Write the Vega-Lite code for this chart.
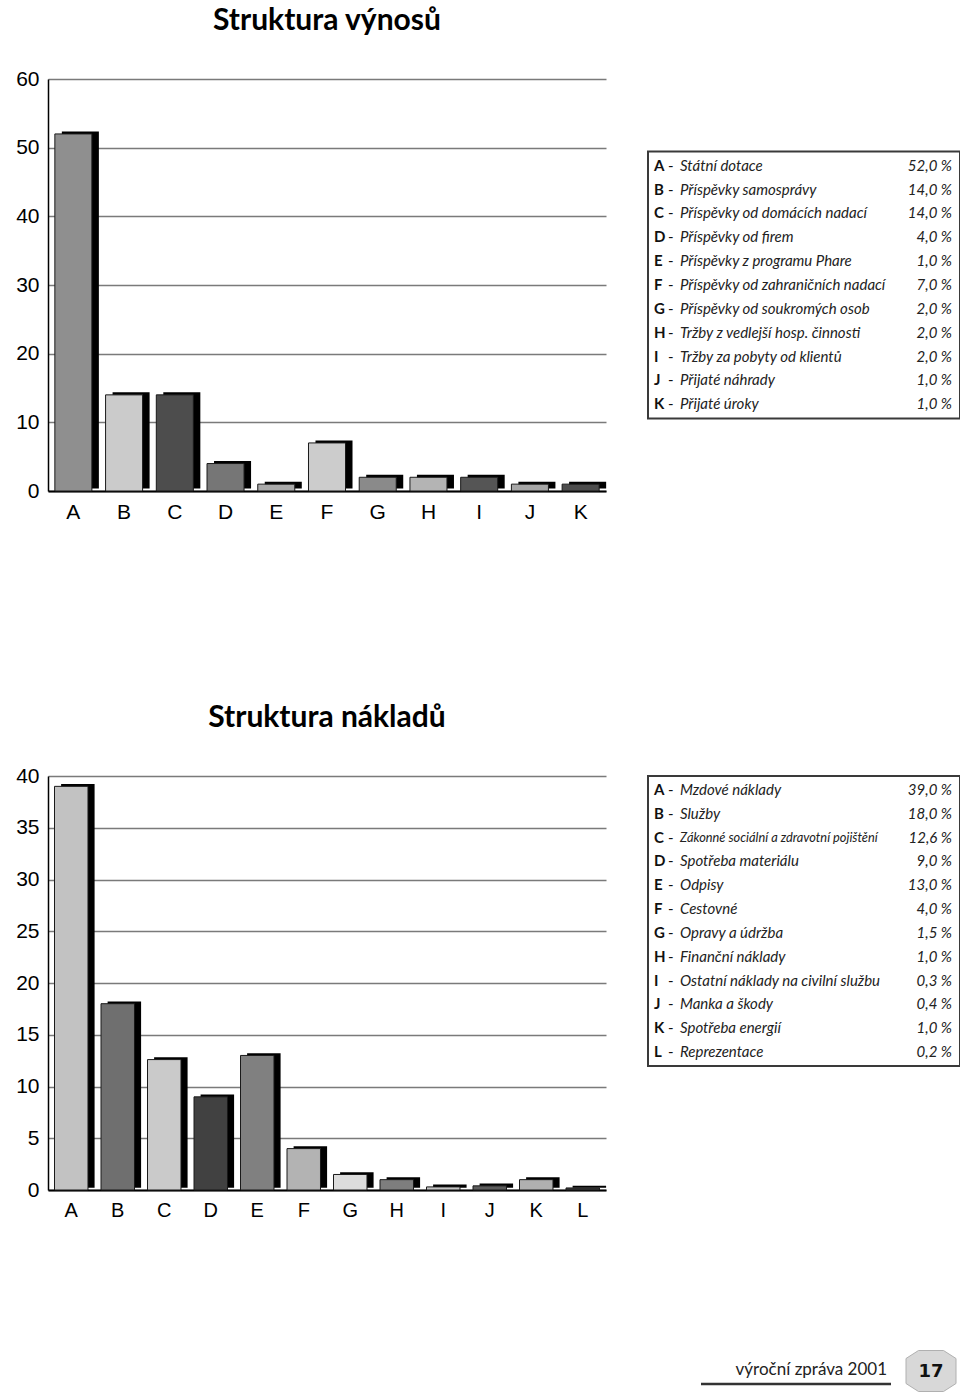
{
  "$schema": "https://vega.github.io/schema/vega-lite/v6.json",
  "background": "white",
  "padding": {"left": 15, "top": 5, "right": 0, "bottom": 0},
  "config": {
    "view": {"stroke": null},
    "font": "Liberation Sans",
    "axis": {"labelFont": "Liberation Sans", "labelColor": "black", "ticks": false, "title": null},
    "axisX": {"domainColor": "black", "domainWidth": 2, "labelAngle": 0, "labelFontSize": 21, "labelPadding": 10, "grid": false},
    "axisY": {"domainColor": "black", "domainWidth": 1.5, "labelFontSize": 21, "labelPadding": 9, "gridColor": "#7a7a7a", "gridWidth": 1.5, "gridOpacity": 1}
  },
  "datasets": {
    "vynosy": [
      {"code": "A", "name": "Státní dotace", "value": 52, "pct": "52,0 %"},
      {"code": "B", "name": "Příspěvky samosprávy", "value": 14, "pct": "14,0 %"},
      {"code": "C", "name": "Příspěvky od domácích nadací", "value": 14, "pct": "14,0 %"},
      {"code": "D", "name": "Příspěvky od firem", "value": 4, "pct": "4,0 %"},
      {"code": "E", "name": "Příspěvky z programu Phare", "value": 1, "pct": "1,0 %"},
      {"code": "F", "name": "Příspěvky od zahraničních nadací", "value": 7, "pct": "7,0 %"},
      {"code": "G", "name": "Příspěvky od soukromých osob", "value": 2, "pct": "2,0 %"},
      {"code": "H", "name": "Tržby z vedlejší hosp. činnosti", "value": 2, "pct": "2,0 %"},
      {"code": "I", "name": "Tržby za pobyty od klientů", "value": 2, "pct": "2,0 %"},
      {"code": "J", "name": "Přijaté náhrady", "value": 1, "pct": "1,0 %"},
      {"code": "K", "name": "Přijaté úroky", "value": 1, "pct": "1,0 %"}
    ],
    "naklady": [
      {"code": "A", "name": "Mzdové náklady", "value": 39, "pct": "39,0 %"},
      {"code": "B", "name": "Služby", "value": 18, "pct": "18,0 %"},
      {"code": "C", "name": "Zákonné sociální a zdravotní pojištění", "value": 12.6, "pct": "12,6 %"},
      {"code": "D", "name": "Spotřeba materiálu", "value": 9, "pct": "9,0 %"},
      {"code": "E", "name": "Odpisy", "value": 13, "pct": "13,0 %"},
      {"code": "F", "name": "Cestovné", "value": 4, "pct": "4,0 %"},
      {"code": "G", "name": "Opravy a údržba", "value": 1.5, "pct": "1,5 %"},
      {"code": "H", "name": "Finanční náklady", "value": 1, "pct": "1,0 %"},
      {"code": "I", "name": "Ostatní náklady na civilní službu", "value": 0.3, "pct": "0,3 %"},
      {"code": "J", "name": "Manka a škody", "value": 0.4, "pct": "0,4 %"},
      {"code": "K", "name": "Spotřeba energií", "value": 1, "pct": "1,0 %"},
      {"code": "L", "name": "Reprezentace", "value": 0.2, "pct": "0,2 %"}
    ],
    "footer": [
      {"label": "výroční zpráva 2001", "page": "17"}
    ]
  },
  "columns": 2,
  "spacing": {"row": 285, "column": 42},
  "bounds": "flush",
  "center": true,
  "resolve": {"scale": {"color": "independent", "x": "independent", "y": "independent"}},
  "concat": [
    {
      "width": 558,
      "height": 412,
      "title": {"text": "Struktura výnosů", "font": "Lato", "fontSize": 30, "fontWeight": "bold", "color": "black", "anchor": "middle", "offset": 32.5},
      "data": {"name": "vynosy"},
      "encoding": {
        "x": {"field": "code", "type": "nominal", "sort": null, "scale": {"paddingInner": 0.27, "paddingOuter": 0.135}},
        "y": {"field": "value", "type": "quantitative", "scale": {"domain": [0, 60], "nice": false}, "axis": {"values": [0, 10, 20, 30, 40, 50, 60]}}
      },
      "layer": [
        {"mark": {"type": "bar", "color": "black", "xOffset": 7, "yOffset": -2.5}},
        {
          "mark": {"type": "bar", "stroke": "#1a1a1a", "strokeWidth": 1},
          "encoding": {
            "color": {"field": "code", "type": "nominal", "legend": null, "scale": {"domain": ["A","B","C","D","E","F","G","H","I","J","K"], "range": ["#8f8f8f","#cbcbcb","#4d4d4d","#767676","#a9a9a9","#cccccc","#8a8a8a","#b4b4b4","#555555","#a6a6a6","#4d4d4d"]}}
          }
        }
      ]
    },
    {
      "width": 312,
      "height": 267,
      "view": {"stroke": "#3a3a3a", "strokeWidth": 2},
      "data": {"name": "vynosy"},
      "encoding": {"y": {"field": "code", "type": "ordinal", "sort": null, "scale": {"type": "point", "padding": 0.6}, "axis": null}},
      "layer": [
        {"mark": {"type": "text", "align": "left", "font": "Lato", "fontWeight": "bold", "fontSize": 15, "color": "#111"}, "encoding": {"x": {"value": 6}, "text": {"field": "code"}}},
        {"mark": {"type": "text", "align": "left", "font": "Lato", "fontSize": 15, "color": "#111"}, "encoding": {"x": {"value": 20}, "text": {"value": "-"}}},
        {"mark": {"type": "text", "align": "left", "font": "Lato", "fontStyle": "italic", "fontSize": 15, "color": "#222"}, "encoding": {"x": {"value": 32}, "text": {"field": "name"}}},
        {"mark": {"type": "text", "align": "right", "font": "Lato", "fontStyle": "italic", "fontSize": 15, "color": "#222"}, "encoding": {"x": {"value": 304}, "text": {"field": "pct"}}}
      ]
    },
    {
      "width": 558,
      "height": 414,
      "title": {"text": "Struktura nákladů", "font": "Lato", "fontSize": 30, "fontWeight": "bold", "color": "black", "anchor": "middle", "offset": 32},
      "layer": [
        {
          "data": {"name": "naklady"},
          "encoding": {
            "x": {"field": "code", "type": "nominal", "sort": null, "scale": {"paddingInner": 0.28, "paddingOuter": 0.14}, "axis": {"labelFontSize": 20}},
            "y": {"field": "value", "type": "quantitative", "scale": {"domain": [0, 40], "nice": false}, "axis": {"values": [0, 5, 10, 15, 20, 25, 30, 35, 40]}}
          },
          "layer": [
            {"mark": {"type": "bar", "color": "black", "xOffset": 6.6, "yOffset": -2.3}},
            {
              "mark": {"type": "bar", "stroke": "#1a1a1a", "strokeWidth": 1},
              "encoding": {
                "color": {"field": "code", "type": "nominal", "legend": null, "scale": {"domain": ["A","B","C","D","E","F","G","H","I","J","K","L"], "range": ["#c2c2c2","#6f6f6f","#cacaca","#414141","#808080","#b3b3b3","#dcdcdc","#7e7e7e","#c4c4c4","#5c5c5c","#b0b0b0","#3a3a3a"]}}
              }
            }
          ]
        },
        {
          "data": {"name": "footer"},
          "layer": [
            {"mark": {"type": "rule", "color": "#333", "strokeWidth": 2.5}, "encoding": {"x": {"value": 653}, "x2": {"value": 843}, "y": {"value": 608}}},
            {"mark": {"type": "text", "align": "right", "baseline": "alphabetic", "font": "Lato", "fontSize": 17, "color": "#222"}, "encoding": {"x": {"value": 839}, "y": {"value": 599}, "text": {"field": "label"}}},
            {"mark": {"type": "point", "filled": true, "color": "#d8d8d8", "stroke": "#b0b0b0", "strokeWidth": 1, "opacity": 1, "shape": "M-1,-0.5 L-0.5,-0.82 L0.5,-0.82 L1,-0.5 L1,0.5 L0.5,0.82 L-0.5,0.82 L-1,0.5 Z", "size": 2500}, "encoding": {"x": {"value": 883}, "y": {"value": 595}}},
            {"mark": {"type": "text", "align": "center", "baseline": "middle", "font": "DejaVu Sans", "fontWeight": "bold", "fontSize": 18, "color": "#111"}, "encoding": {"x": {"value": 883}, "y": {"value": 596}, "text": {"field": "page"}}}
          ]
        }
      ]
    },
    {
      "width": 312,
      "height": 290,
      "view": {"stroke": "#3a3a3a", "strokeWidth": 2},
      "data": {"name": "naklady"},
      "encoding": {"y": {"field": "code", "type": "ordinal", "sort": null, "scale": {"type": "point", "padding": 0.59, "domain": ["A","B","C","D","E","F","G","H","I","J","K","L"]}, "axis": null}},
      "layer": [
        {"mark": {"type": "text", "align": "left", "font": "Lato", "fontWeight": "bold", "fontSize": 15, "color": "#111"}, "encoding": {"x": {"value": 6}, "text": {"field": "code"}}},
        {"mark": {"type": "text", "align": "left", "font": "Lato", "fontSize": 15, "color": "#111"}, "encoding": {"x": {"value": 20}, "text": {"value": "-"}}},
        {"transform": [{"filter": "datum.code !== 'C'"}], "mark": {"type": "text", "align": "left", "font": "Lato", "fontStyle": "italic", "fontSize": 15, "color": "#222"}, "encoding": {"x": {"value": 32}, "text": {"field": "name"}}},
        {"transform": [{"filter": "datum.code === 'C'"}], "mark": {"type": "text", "align": "left", "font": "Lato", "fontStyle": "italic", "fontSize": 12.8, "color": "#222"}, "encoding": {"x": {"value": 32}, "text": {"field": "name"}}},
        {"mark": {"type": "text", "align": "right", "font": "Lato", "fontStyle": "italic", "fontSize": 15, "color": "#222"}, "encoding": {"x": {"value": 304}, "text": {"field": "pct"}}}
      ]
    }
  ]
}
